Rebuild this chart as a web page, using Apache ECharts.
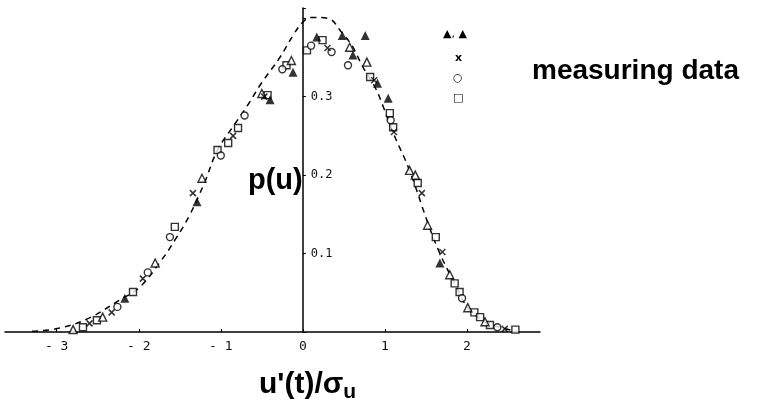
<!DOCTYPE html>
<html><head><meta charset="utf-8">
<script src="https://cdn.jsdelivr.net/npm/echarts@6/dist/echarts.min.js"></script>
<style>html,body{margin:0;padding:0;background:#fff}#c{width:757px;height:407px}</style>
</head><body><div id="c"></div>
<script>
// dashed reference curve
const curveU = [-3.3,-2.96,-2.6,-2.23,-1.99,-1.72,-1.56,-1.38,-1.2,-1.04,-0.85,-0.68,-0.5,-0.28,-0.12,0.0,0.1,0.3,0.48,0.61,0.73,0.88,0.98,1.10,1.30,1.52,1.67,1.85,2.01,2.22,2.40,2.6];
const curveP = [0.001,0.005,0.018,0.041,0.057,0.092,0.117,0.149,0.19,0.232,0.262,0.288,0.318,0.350,0.378,0.395,0.401,0.400,0.381,0.363,0.338,0.312,0.287,0.254,0.206,0.140,0.100,0.062,0.031,0.013,0.006,0.001];
// measured points
const triFilled = [[-2.17,0.043],[-1.29,0.166],[-0.40,0.296],[-0.12,0.331],[0.17,0.376],[0.48,0.378],[0.76,0.378],[0.61,0.353],[0.91,0.317],[1.04,0.298],[1.67,0.088]];
const triOpen = [[-2.80,0.003],[-2.44,0.019],[-1.80,0.088],[-1.23,0.196],[-0.50,0.304],[-0.14,0.346],[0.57,0.363],[0.78,0.344],[1.30,0.206],[1.37,0.200],[1.52,0.136],[1.79,0.073],[2.01,0.031],[2.22,0.013]];
const crosses = [[-2.60,0.011],[-2.33,0.025],[-1.95,0.068],[-1.34,0.177],[-0.85,0.250],[-0.47,0.300],[0.30,0.362],[0.87,0.321],[1.11,0.255],[1.45,0.177],[1.70,0.102],[2.46,0.004]];
const circles = [[-2.26,0.032],[-1.89,0.076],[-1.62,0.121],[-1.00,0.225],[-0.71,0.276],[-0.25,0.335],[0.10,0.365],[0.35,0.357],[0.55,0.340],[1.07,0.270],[1.94,0.043],[2.37,0.006]];
const squares = [[-2.68,0.006],[-2.51,0.015],[-2.07,0.051],[-1.56,0.134],[-1.04,0.232],[-0.91,0.241],[-0.79,0.260],[-0.43,0.302],[-0.20,0.340],[0.05,0.359],[0.24,0.372],[0.82,0.325],[1.06,0.279],[1.10,0.261],[1.40,0.190],[1.62,0.121],[1.85,0.062],[1.91,0.051],[2.09,0.025],[2.16,0.019],[2.28,0.009],[2.59,0.003]];
const xTicks = [-3,-2,-1,0,1,2];
const yTicks = [0.1,0.2,0.3];

const X_MIN = -3.63, X_MAX = 2.89;
const GRID_LEFT = 5, GRID_RIGHT = 217;
const chart = echarts.init(document.getElementById('c'));
const crossPath = 'path://M0,0L10,10M10,0L0,10';
const ptStyle = {color:'#fff', borderColor:'#000', borderWidth:1.4};
const zeroOffset = -(757 - GRID_LEFT - GRID_RIGHT) * (0 - X_MIN) / (X_MAX - X_MIN);
chart.setOption({
  animation:false,
  backgroundColor:'#fff',
  grid:{left:GRID_LEFT, right:GRID_RIGHT, top:8, bottom:75},
  xAxis:{type:'value', min:X_MIN, max:X_MAX,
    axisLine:{onZero:false, lineStyle:{color:'#000', width:1.5}},
    axisTick:{show:true, inside:true, length:3, lineStyle:{color:'#000'}},
    splitLine:{show:false},
    axisLabel:{showMinLabel:false, showMaxLabel:false, color:'#111', fontSize:13, margin:8,
      fontFamily:'DejaVu Sans Mono',
      formatter:v=> xTicks.indexOf(Math.round(v*1000)/1000)>=0 ? (v<0?'- '+Math.abs(v):String(v)) : ''}
  },
  yAxis:{type:'value', min:0, max:0.413, interval:0.1, position:'left', offset:zeroOffset,
    axisLine:{onZero:false, lineStyle:{color:'#000', width:1.5}},
    axisTick:{show:true, inside:true, length:3, lineStyle:{color:'#000'}},
    splitLine:{show:false},
    axisLabel:{inside:true, margin:8, color:'#111', fontSize:12, fontFamily:'DejaVu Sans Mono',
      formatter:v=> yTicks.some(t=>Math.abs(t-v)<1e-6) ? v.toFixed(1) : ''}
  },
  title:[
    {text:"{a|u'(t)/σ}{b|u}", left:254, top:362, textStyle:{rich:{
      a:{fontSize:30, fontWeight:'bold', fontFamily:'Liberation Sans', color:'#000'},
      b:{fontSize:21, fontWeight:'bold', fontFamily:'Liberation Sans', color:'#000', padding:[15,0,0,0]}}}},
    {text:'p(u)', left:243, top:161, textStyle:{fontSize:29, fontWeight:'bold', fontFamily:'Liberation Sans', color:'#000'}},
    {text:'measuring data', left:527, top:52, textStyle:{fontSize:28, fontWeight:'bold', fontFamily:'Liberation Sans', color:'#000'}}
  ],
  graphic:[
    {type:'text', left:443, top:29, style:{text:'▲, ▲', fontSize:11, fill:'#000', fontFamily:'DejaVu Sans'}},
    {type:'text', left:455, top:53, style:{text:'x', fontSize:11, fontWeight:'bold', fill:'#000', fontFamily:'DejaVu Sans'}},
    {type:'text', left:453, top:73, style:{text:'○', fontSize:11, fill:'#000', fontFamily:'DejaVu Sans'}},
    {type:'text', left:453, top:93, style:{text:'□', fontSize:11, fill:'#000', fontFamily:'DejaVu Sans'}}
  ],
  series:[
    {type:'line', data:curveU.map((u,i)=>[u,curveP[i]]), smooth:0.4, showSymbol:false, symbol:'none',
      lineStyle:{color:'#000', width:1.5, type:[6,5]}, z:1},
    {type:'scatter', data:squares, symbol:'rect', symbolSize:7, itemStyle:ptStyle, z:2},
    {type:'scatter', data:circles, symbol:'circle', symbolSize:7, itemStyle:ptStyle, z:2},
    {type:'scatter', data:triOpen, symbol:'triangle', symbolSize:8, itemStyle:ptStyle, z:3},
    {type:'scatter', data:crosses, symbol:crossPath, symbolSize:6, itemStyle:{color:'#000', borderColor:'#000', borderWidth:1.5}, z:3},
    {type:'scatter', data:triFilled, symbol:'triangle', symbolSize:9, itemStyle:{color:'#000'}, z:4}
  ]
});
</script></body></html>
